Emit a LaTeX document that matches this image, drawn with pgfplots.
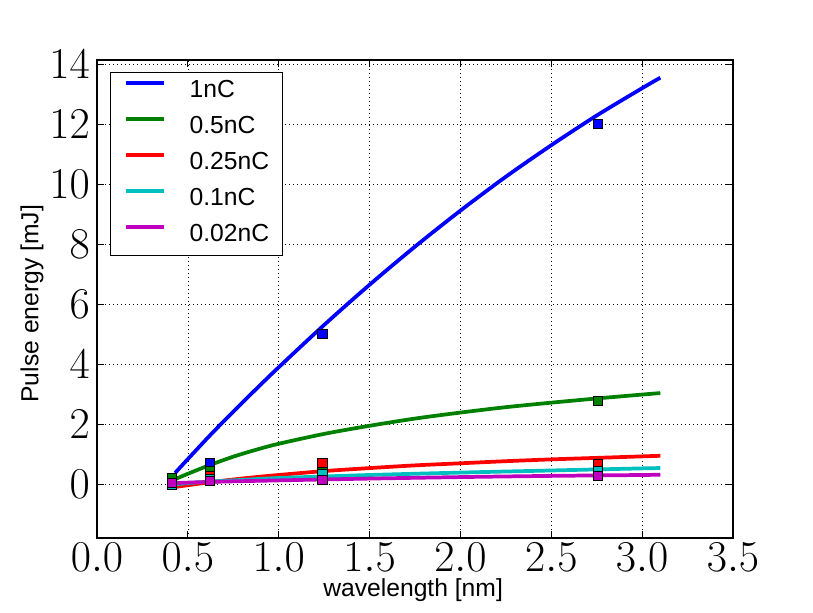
\RequirePackage{fix-cm}
\documentclass[border=0pt]{standalone}
\usepackage{pgfplots}
\pgfplotsset{compat=1.18}
\usepackage{fontspec}
\setmainfont{Liberation Sans}
\definecolor{mb}{rgb}{0,0,1}
\definecolor{mg}{rgb}{0,0.5,0}
\definecolor{mr}{rgb}{1,0,0}
\definecolor{mc}{rgb}{0,0.75,0.75}
\definecolor{mm}{rgb}{0.75,0,0.75}
\begin{document}
\begin{tikzpicture}
\begin{axis}[
  scale only axis,
  width=477pt, height=358.5pt,
  xmin=0, xmax=3.5, ymin=-1.79, ymax=14.14,
  xtick={0,0.5,1,1.5,2,2.5,3,3.5},
  ytick={0,2,4,6,8,10,12,14},
  xticklabel style={/pgf/number format/fixed, /pgf/number format/fixed zerofill, /pgf/number format/precision=1},
  tick label style={font=\fontsize{33}{33}\selectfont},
  xticklabel style={inner sep=0pt, anchor=north, yshift=-3.75pt},
  yticklabel style={inner sep=0pt, anchor=east, xshift=-5.25pt},
  tick align=inside,
  major tick length=5pt,
  tick style={black, line width=0.6pt},
  axis line style={black, line width=0.8pt},
  grid=major,
  grid style={black, line width=0.5pt, dash pattern=on 0.75pt off 2.25pt},
  xlabel={wavelength [nm]},
  ylabel={Pulse energy [mJ]},
  label style={font=\fontsize{18.5}{20}\selectfont},
  xlabel style={at={(axis description cs:0.497,-0.109)}, anchor=center, inner sep=0pt},
  ylabel style={at={(axis description cs:-0.1022,0.49)}, anchor=center, inner sep=0pt},
  legend style={at={(axis description cs:0.0204,0.975)}, anchor=north west,
    draw=black, line width=0.8pt, fill=white,
    font=\fontsize{18.5}{20}\selectfont,
    inner xsep=10pt, inner ysep=6pt, row sep=10pt, column sep=18pt,
    nodes={inner sep=0pt, text height=13pt, text depth=4pt}},
  legend cell align=left,
  legend image code/.code={\path (0pt,0pt); \draw[#1] (0pt,6.5pt) -- (28.5pt,6.5pt);},
]
% data markers
\addplot[only marks, mark=square*, mark size=3.4pt, mark options={fill=mb, draw=black, line width=0.5pt}, forget plot]
  coordinates {(0.413,0.2) (0.62,0.70) (1.24,5.0) (2.755,12.0)};
\addplot[only marks, mark=square*, mark size=3.4pt, mark options={fill=mg, draw=black, line width=0.5pt}, forget plot]
  coordinates {(0.413,0.2) (0.62,0.44) (1.24,0.6) (2.755,2.79)};
\addplot[only marks, mark=square*, mark size=3.4pt, mark options={fill=mr, draw=black, line width=0.5pt}, forget plot]
  coordinates {(0.413,0.02) (0.62,0.28) (1.24,0.70) (2.755,0.69)};
\addplot[only marks, mark=square*, mark size=3.4pt, mark options={fill=mc, draw=black, line width=0.5pt}, forget plot]
  coordinates {(0.413,-0.02) (0.62,0.17) (1.24,0.34) (2.755,0.45)};
\addplot[only marks, mark=square*, mark size=3.4pt, mark options={fill=mm, draw=black, line width=0.5pt}, forget plot]
  coordinates {(0.413,0.06) (0.62,0.11) (1.24,0.14) (2.755,0.28)};
% fitted curves
\addplot[mb, line width=2.8pt, smooth] coordinates {
  (0.43,0.38) (0.5,0.84) (0.625,1.65) (0.75,2.42) (0.875,3.17) (1.0,3.90) (1.25,5.31)
  (1.5,6.65) (1.75,7.92) (2.0,9.12) (2.25,10.25) (2.5,11.30) (2.75,12.29) (3.0,13.20) (3.1,13.55)};
\addlegendentry{1nC}
\addplot[mg, line width=2.8pt, smooth] coordinates {
  (0.43,0.17) (0.5,0.35) (0.625,0.65) (0.75,0.92) (0.875,1.15) (1.0,1.35) (1.25,1.68)
  (1.5,1.95) (1.75,2.19) (2.0,2.39) (2.25,2.57) (2.5,2.72) (2.75,2.86) (3.0,2.99) (3.1,3.04)};
\addlegendentry{0.5nC}
\addplot[mr, line width=2.8pt, smooth] coordinates {
  (0.43,-0.09) (0.5,-0.03) (0.625,0.07) (0.75,0.16) (0.875,0.24) (1.0,0.31) (1.25,0.44)
  (1.5,0.54) (1.75,0.63) (2.0,0.70) (2.25,0.77) (2.5,0.83) (2.75,0.88) (3.0,0.93) (3.1,0.95)};
\addlegendentry{0.25nC}
\addplot[mc, line width=2.8pt, smooth] coordinates {
  (0.43,0.0) (0.5,0.04) (0.625,0.09) (0.75,0.13) (1.0,0.21) (1.25,0.26) (1.5,0.31)
  (2.0,0.39) (2.5,0.46) (3.0,0.53) (3.1,0.54)};
\addlegendentry{0.1nC}
\addplot[mm, line width=2.8pt, smooth] coordinates {
  (0.43,0.04) (0.625,0.08) (1.0,0.13) (1.5,0.19) (2.0,0.24) (2.5,0.28) (3.0,0.31) (3.1,0.32)};
\addlegendentry{0.02nC}
\end{axis}
\path[use as bounding box] ([shift={(-72.75pt,-56.25pt)}]current axis.south west) rectangle ([shift={(60pt,45pt)}]current axis.north east);
\end{tikzpicture}
\end{document}
